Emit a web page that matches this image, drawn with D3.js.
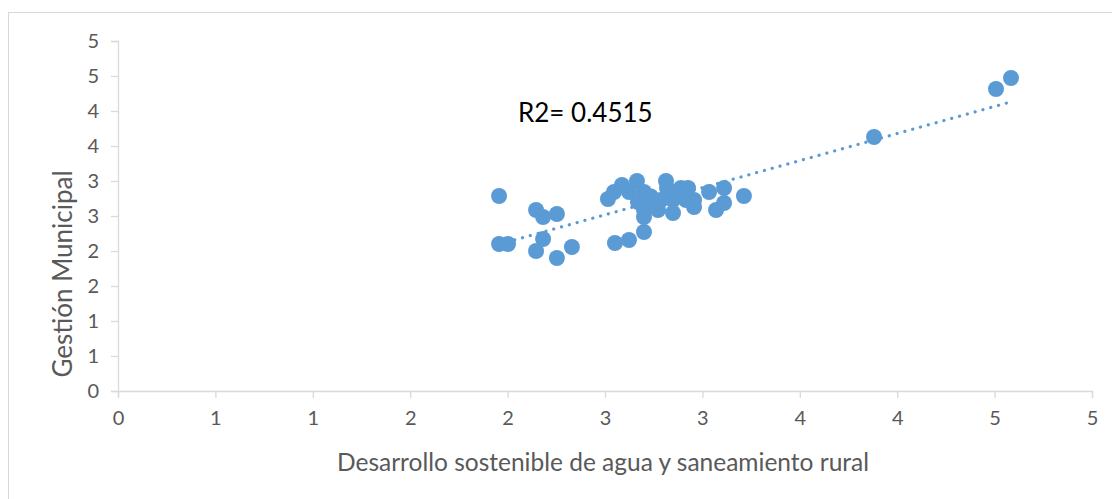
<!DOCTYPE html>
<html>
<head>
  <meta charset="utf-8">
  <title>Gestión Municipal vs Desarrollo sostenible</title>
  <script src="https://d3js.org/d3.v7.min.js"></script>
  <style>
    body { margin: 0; background: #fff; }
    text { font-family: Lato, "Open Sans", sans-serif; fill: #595959; }
  </style>
</head>
<body>
  <div id="chart"></div>

  <script>
    // Data
    const xValues = [1.951, 1.951, 1.997, 2.141, 2.177, 2.248, 2.177, 2.141, 2.248, 2.325,
                     2.510, 2.546, 2.541, 2.582, 2.618, 2.659, 2.618, 2.695, 2.664, 2.695,
                     2.695, 2.695, 2.808, 2.813, 2.885, 2.921, 2.782, 2.844, 2.767, 2.952,
                     3.029, 3.106, 3.106, 3.065, 3.208, 3.876, 4.502, 4.579, 2.731, 2.844,
                     2.911, 2.952, 2.885, 2.730];
    const yValues = [2.786, 2.100, 2.100, 2.586, 2.486, 2.529, 2.171, 2.000, 1.900, 2.057,
                     2.743, 2.114, 2.843, 2.943, 2.157, 3.000, 2.843, 2.843, 2.700, 2.271,
                     2.486, 2.586, 3.000, 2.900, 2.900, 2.900, 2.729, 2.543, 2.586, 2.629,
                     2.843, 2.900, 2.686, 2.586, 2.786, 3.629, 4.314, 4.471, 2.657, 2.729,
                     2.729, 2.729, 2.800, 2.780];
    const tickValues = [0, 0.5, 1, 1.5, 2, 2.5, 3, 3.5, 4, 4.5, 5];
    const tickLabels = ["0", "1", "1", "2", "2", "3", "3", "4", "4", "5", "5"];
    // linear trend (Excel trendline)
    const trendSlope = 0.774;
    const trendIntercept = 0.586;
    const r2Label = "R2= 0.4515";
    const xTitle = "Desarrollo sostenible de agua y saneamiento rural";
    const yTitle = "Gestión Municipal";

    const W = 1112, H = 499;
    const margin = { top: 41, right: 20, bottom: 108, left: 118 },
          width = 1092 - margin.left,
          height = 391 - margin.top;

    const blue = "#5B9BD5";
    const axisColor = "#D9D9D9";

    const root = d3.select("#chart")
      .append("svg")
      .attr("width", W)
      .attr("height", H);

    // outer chart frame
    root.append("rect")
      .attr("x", 8.5).attr("y", 12.5)
      .attr("width", 1200).attr("height", 600)
      .attr("fill", "none")
      .attr("stroke", "#D9D9D9");

    const svg = root.append("g")
      .attr("transform", "translate(" + margin.left + "," + margin.top + ")");

    const x = d3.scaleLinear().domain([0, 5]).range([0, width]);
    const y = d3.scaleLinear().domain([0, 5]).range([height, 0]);

    const fmt = (d) => tickLabels[tickValues.indexOf(d)];

    // x axis
    const gx = svg.append("g")
      .attr("transform", "translate(0," + height + ")")
      .call(d3.axisBottom(x).tickValues(tickValues).tickFormat(fmt).tickSize(7).tickPadding(13));
    gx.select(".domain").attr("stroke", axisColor).attr("stroke-width", 1.3);
    gx.selectAll(".tick line").attr("stroke", axisColor).attr("stroke-width", 1.3);
    gx.selectAll("text").style("font-size", "20px").attr("fill", "#595959");

    // y axis
    const gy = svg.append("g")
      .call(d3.axisLeft(y).tickValues(tickValues).tickFormat(fmt).tickSize(7).tickPadding(12));
    gy.select(".domain").attr("stroke", axisColor).attr("stroke-width", 1.3);
    gy.selectAll(".tick line").attr("stroke", axisColor).attr("stroke-width", 1.3);
    gy.selectAll("text").style("font-size", "20px").attr("fill", "#595959");

    // points
    const pts = xValues.map((v, i) => ({ x: v, y: yValues[i] }));
    svg.selectAll(".dot")
      .data(pts)
      .enter()
      .append("circle")
      .attr("class", "dot")
      .attr("cx", d => x(d.x) + 1)
      .attr("cy", d => y(d.y))
      .attr("r", 8)
      .attr("fill", blue);

    // dotted trendline over the data range
    const ext = d3.extent(xValues);
    const trend = ext.map(v => ({ x: v, y: trendIntercept + trendSlope * v }));
    svg.append("path")
      .datum(trend)
      .attr("d", d3.line().x(d => x(d.x) + 1).y(d => y(d.y)))
      .attr("fill", "none")
      .attr("stroke", blue)
      .attr("stroke-width", 3.2)
      .attr("stroke-linecap", "round")
      .attr("stroke-dasharray", "0.1,8");

    // R2 label
    root.append("text")
      .attr("x", 518).attr("y", 122)
      .style("font-size", "26px")
      .style("fill", "#000")
      .text(r2Label);

    // axis titles
    root.append("text")
      .attr("x", 603).attr("y", 471)
      .attr("text-anchor", "middle")
      .style("font-size", "24.5px")
      .text(xTitle);

    root.append("text")
      .attr("transform", "translate(72,274) rotate(-90)")
      .attr("text-anchor", "middle")
      .style("font-size", "26px")
      .text(yTitle);
  </script>
</body>
</html>
